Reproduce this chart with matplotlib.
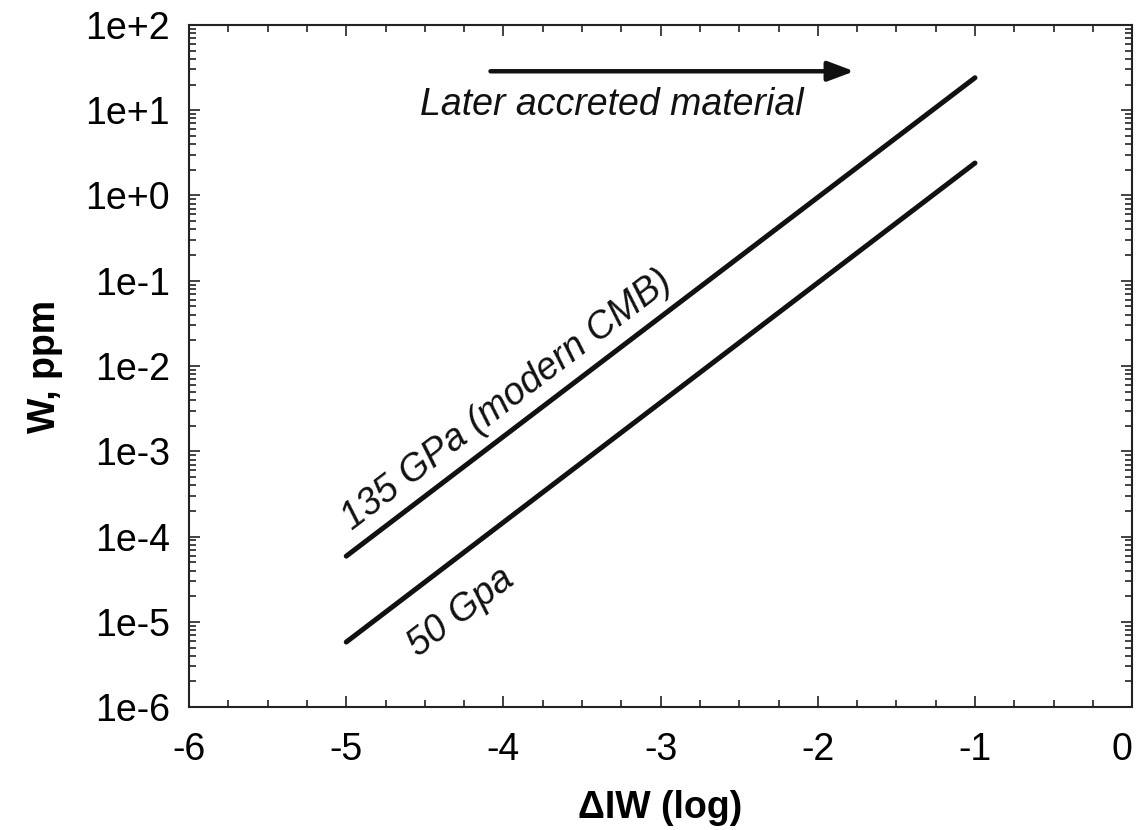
import matplotlib
matplotlib.use('Agg')
import matplotlib.pyplot as plt
import numpy as np
from matplotlib.ticker import MultipleLocator, LogLocator, FixedLocator

plt.rcParams['font.family'] = ['Liberation Sans', 'DejaVu Sans']

# data
diw = [-5, -1]
w_135 = [5.9e-5, 24.0]
w_50 = [5.8e-6, 2.4]

xticks = [-6, -5, -4, -3, -2, -1, 0]
ytick_vals = [1e-6, 1e-5, 1e-4, 1e-3, 1e-2, 1e-1, 1e0, 1e1, 1e2]
ytick_labels = ['1e-6', '1e-5', '1e-4', '1e-3', '1e-2', '1e-1', '1e+0', '1e+1', '1e+2']

fig = plt.figure(figsize=(11.39, 8.30), dpi=100)
ax = fig.add_axes([0.166, 0.148, 0.828, 0.822])

ax.plot(diw, w_135, color='#111111', lw=3.6, solid_capstyle='round')
ax.plot(diw, w_50, color='#111111', lw=3.6, solid_capstyle='round')

ax.set_yscale('log')
ax.set_xlim(-6, 0)
ax.set_ylim(1e-6, 1e2)

ax.xaxis.set_major_locator(FixedLocator(xticks))
ax.xaxis.set_minor_locator(MultipleLocator(0.25))
ax.set_xticklabels([str(t) for t in xticks])
ax.yaxis.set_major_locator(FixedLocator(ytick_vals))
ax.yaxis.set_minor_locator(LogLocator(base=10, subs=np.arange(2, 10)))
ax.set_yticklabels(ytick_labels)

ax.tick_params(which='both', direction='in', top=True, right=True, width=1.2, color='#222222')
ax.tick_params(which='major', length=8)
ax.tick_params(which='minor', length=5)
ax.tick_params(axis='x', which='major', labelsize=27, pad=18)
ax.tick_params(axis='y', which='major', labelsize=27, pad=14)
ax.get_xticklabels()[-1].set_ha('right')
for sp in ax.spines.values():
    sp.set_linewidth(1.5)
    sp.set_color('#222222')

ax.set_xlabel('ΔIW (log)', fontsize=27, fontweight='bold', labelpad=16)
ax.set_ylabel('W, ppm', fontsize=27, fontweight='bold', labelpad=16)

ax.annotate('', xy=(-1.75, 28.6), xytext=(-4.1, 28.6),
            arrowprops=dict(arrowstyle='-|>,head_length=1.6,head_width=0.6', lw=3.2, color='#111111'))
ax.text(-3.31, 11.5, 'Later accreted material', fontsize=27, style='italic',
        ha='center', va='center', color='#111111')
ax.text(-3.98, 4e-3, '135 GPa (modern CMB)', fontsize=27, style='italic',
        ha='center', va='center', rotation=37.3, color='#111111')
ax.text(-4.27, 1.3e-5, '50 Gpa', fontsize=27, style='italic',
        ha='center', va='center', rotation=37.3, color='#111111')

fig.savefig('out.png', dpi=100)
